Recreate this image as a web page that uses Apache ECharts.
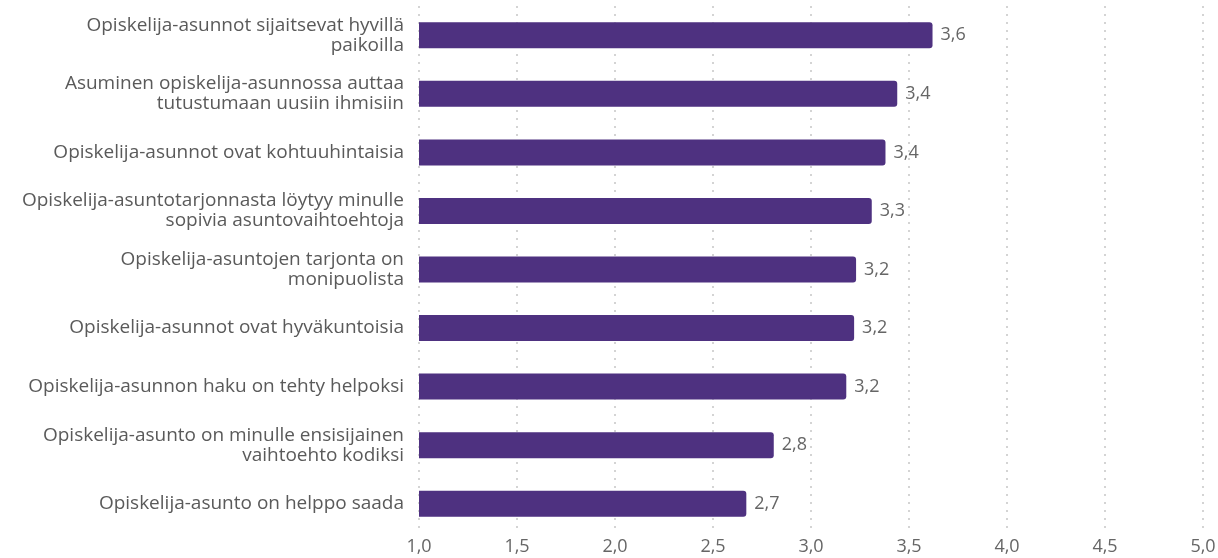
<!DOCTYPE html>
<html>
<head>
<meta charset="utf-8">
<script src="https://cdn.jsdelivr.net/npm/echarts@6/dist/echarts.min.js"></script>
<style>
  html, body { margin: 0; padding: 0; background: #fff; }
  #chart { width: 1218px; height: 558px; }
</style>
</head>
<body>
<div id="chart"></div>
<script>
// väittämät ylhäältä alas
const categories = [
  'Opiskelija-asunnot sijaitsevat hyvillä\npaikoilla',
  'Asuminen opiskelija-asunnossa auttaa\ntutustumaan uusiin ihmisiin',
  'Opiskelija-asunnot ovat kohtuuhintaisia',
  'Opiskelija-asuntotarjonnasta löytyy minulle\nsopivia asuntovaihtoehtoja',
  'Opiskelija-asuntojen tarjonta on\nmonipuolista',
  'Opiskelija-asunnot ovat hyväkuntoisia',
  'Opiskelija-asunnon haku on tehty helpoksi',
  'Opiskelija-asunto on minulle ensisijainen\nvaihtoehto kodiksi',
  'Opiskelija-asunto on helppo saada'
]
const values = [3.62, 3.44, 3.38, 3.31, 3.23, 3.22, 3.18, 2.81, 2.67]

const fmt = v => Number(v).toFixed(1).replace('.', ',')

const chart = echarts.init(document.getElementById('chart'))
chart.setOption({
  animation: false,
  textStyle: { fontFamily: '"Open Sans", sans-serif' },
  grid: { left: 419, right: 15, top: 6, bottom: 25, outerBoundsMode: 'none' },
  xAxis: {
    type: 'value',
    min: 1,
    max: 5,
    interval: 0.5,
    axisLine: { show: false },
    axisTick: { show: false },
    axisLabel: { color: '#666', fontSize: 18, margin: 5, formatter: fmt },
    splitLine: { show: true, lineStyle: { color: '#d4d4d4', type: [2, 6], width: 2 } }
  },
  yAxis: {
    type: 'category',
    inverse: true,
    data: categories,
    axisLine: { show: false },
    axisTick: { show: false },
    axisLabel: { color: '#5a5a5a', fontSize: 19, lineHeight: 20, margin: 15, align: 'right' }
  },
  series: [{
    type: 'bar',
    data: values,
    barWidth: 26,
    itemStyle: { color: '#4e3180', borderRadius: [0, 3, 3, 0] },
    label: {
      show: true,
      position: 'right',
      distance: 8,
      color: '#666',
      fontSize: 18,
      formatter: p => fmt(p.value)
    }
  }]
})
</script>
</body>
</html>
